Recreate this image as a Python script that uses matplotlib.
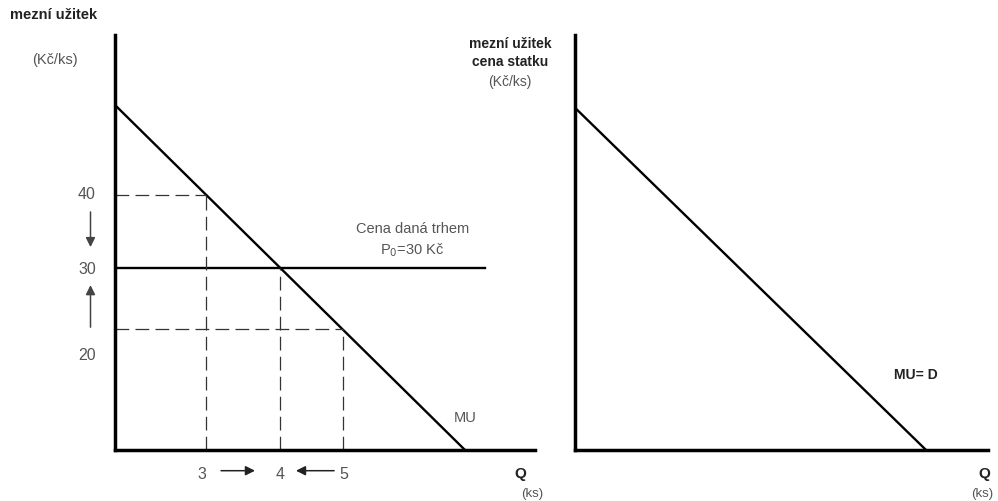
import matplotlib.pyplot as plt

# Schematic values (chart units: Q along x, utility along y)
mu_start = 50.0          # MU at Q = 0
mu_end_q = 10.0          # Q where MU reaches zero
price_levels = [37.0, 26.4, 17.5]   # heights of the dashed reading lines
market_price = 26.4
market_end_q = 10.57
y_tick_labels = ["40", "30", "20"]
y_tick_pos = [37.0, 26.2, 13.7]
q_tick_labels = ["3", "4", "5"]
q_tick_pos = [2.49, 4.71, 6.54]
d_start = 49.6
d_end_q = 10.03

W, H = 998, 501
fig = plt.figure(figsize=(W / 100, H / 100), dpi=100)
plt.rcParams['font.family'] = ['Liberation Sans', 'DejaVu Sans']

gray = "#555555"
dark = "#222222"


def px_axes(x0, y0, x1, y1):
    # axes box given in picture pixels (top-left origin)
    return fig.add_axes([x0 / W, 1 - y1 / H, (x1 - x0) / W, (y1 - y0) / H])


def style(ax):
    for s in ["top", "right"]:
        ax.spines[s].set_visible(False)
    for s in ["left", "bottom"]:
        ax.spines[s].set_linewidth(2.5)
        ax.spines[s].set_color("black")
    ax.set_xticks([])
    ax.set_yticks([])
    ax.patch.set_alpha(0)


def mu_q(level):
    return mu_end_q * (1 - level / mu_start)


# ---- left panel ----
ax = px_axes(115, 35, 535, 450)
style(ax)
ax.set_xlim(0, 12)
ax.set_ylim(0, 415 / 6.9)

ax.plot([0, mu_end_q], [mu_start, 0], color="black", lw=1.7, solid_capstyle="butt")
ax.plot([0, market_end_q], [market_price, market_price], color="black", lw=1.7)

for i, lev in enumerate(price_levels):
    q = mu_q(lev)
    if i != 1:
        ax.plot([0, q], [lev, lev], color="#333333", lw=0.9, dashes=(11, 5))
    ax.plot([q, q], [0, lev], color="#333333", lw=0.9, dashes=(11, 5))

for lab, y in zip(y_tick_labels, y_tick_pos):
    ax.text(-0.55, y, lab, ha="right", va="center", fontsize=11.5, color=gray)
for lab, x in zip(q_tick_labels, q_tick_pos):
    ax.text(x, -3.6, lab, ha="center", va="center", fontsize=11.5, color=gray, clip_on=False)

arr = dict(arrowstyle="-|>", color="#222222", lw=1.1, mutation_scale=14, shrinkA=0, shrinkB=0)
ax.annotate("", xy=(4.0, -3.0), xytext=(3.03, -3.0), arrowprops=arr, annotation_clip=False)
ax.annotate("", xy=(5.17, -3.0), xytext=(6.26, -3.0), arrowprops=arr, annotation_clip=False)
varr = dict(arrowstyle="-|>", color="#444444", lw=1.1, mutation_scale=14, shrinkA=0, shrinkB=0)
ax.annotate("", xy=(-0.7, 29.4), xytext=(-0.7, 34.5), arrowprops=varr, annotation_clip=False)
ax.annotate("", xy=(-0.7, 23.9), xytext=(-0.7, 17.8), arrowprops=varr, annotation_clip=False)

ax.text(8.5, 32.0, "Cena daná trhem", ha="center", va="center", fontsize=10.5, color=gray)
ax.text(8.5, 29.0, "P$_0$=30 Kč", ha="center", va="center", fontsize=10.5, color=gray)
ax.text(10.0, 4.6, "MU", ha="center", va="center", fontsize=10.5, color=gray)

# ---- right panel ----
ax2 = px_axes(575, 35, 988, 450)
style(ax2)
ax2.set_xlim(0, 413 / 35)
ax2.set_ylim(0, 415 / 6.9)
ax2.plot([0, d_end_q], [d_start, 0], color="black", lw=1.7)
ax2.text(9.75, 10.9, "MU= D", ha="center", va="center", fontsize=10,
         fontweight="bold", color=dark)

# ---- axis titles ----
def ftext(x, y, s, **kw):
    fig.text(x / W, 1 - y / H, s, ha="center", va="center", **kw)

ftext(54, 15, "mezní užitek", fontsize=10.5, fontweight="bold", color=dark)
ftext(55, 60, "(Kč/ks)", fontsize=10.5, color=gray)
ftext(510, 44, "mezní užitek", fontsize=10, fontweight="bold", color=dark)
ftext(510, 62, "cena statku", fontsize=10, fontweight="bold", color=dark)
ftext(510, 82, "(Kč/ks)", fontsize=10, color=gray)
ftext(520, 474, "Q", fontsize=11, fontweight="bold", color=dark)
ftext(532, 494, "(ks)", fontsize=9.5, color=gray)
ftext(984, 474, "Q", fontsize=11, fontweight="bold", color=dark)
ftext(982, 494, "(ks)", fontsize=9.5, color=gray)

fig.savefig("out.png", dpi=100)
